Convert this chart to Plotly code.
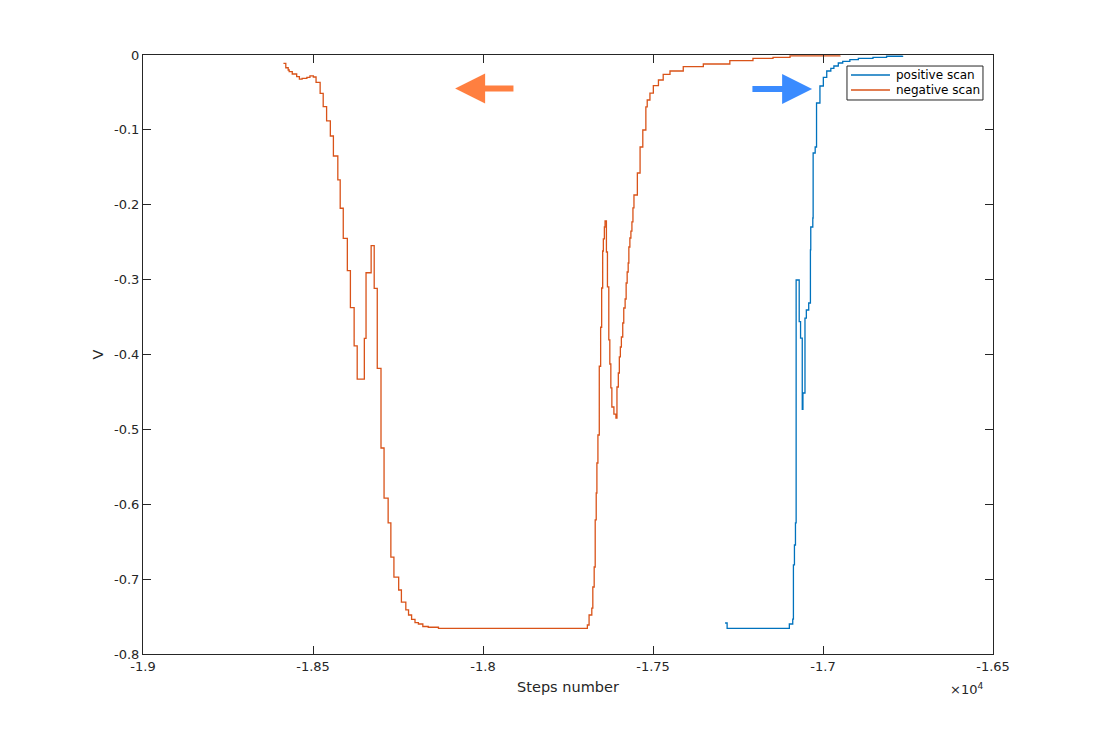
import plotly.graph_objects as go

# ---------------- data ----------------
neg_x = [-18587, -18580, -18573, -18570, -18561, -18548, -18540, -18532, -18518, -18509,
         -18499, -18491, -18479, -18470, -18460, -18449, -18440, -18427, -18420, -18411,
         -18399, -18390, -18379, -18370, -18349, -18344, -18329, -18320, -18311, -18300,
         -18291, -18279, -18271, -18262, -18248, -18240, -18227, -18219, -18210, -18200,
         -18190, -18177, -18161, -18131, -17698, -17693, -17688, -17680, -17677, -17673,
         -17670, -17667, -17665, -17662, -17658, -17654, -17651, -17648, -17646, -17643,
         -17641, -17637, -17634, -17630, -17627, -17624, -17621, -17615, -17609, -17606,
         -17602, -17599, -17596, -17593, -17589, -17586, -17582, -17579, -17576, -17573,
         -17571, -17568, -17565, -17562, -17559, -17556, -17546, -17538, -17530, -17521,
         -17517, -17509, -17499, -17484, -17470, -17450, -17411, -17352, -17274, -17206,
         -17147, -17097, -16950]
neg_v = [-0.0111, -0.0170, -0.0200, -0.0223, -0.0254, -0.0290, -0.0321, -0.0311, -0.0298, -0.0280,
         -0.0294, -0.0365, -0.0512, -0.0690, -0.0881, -0.1082, -0.1349, -0.1669, -0.2047, -0.2448,
         -0.2881, -0.3375, -0.3886, -0.4330, -0.3784, -0.2908, -0.2547, -0.3116, -0.4184, -0.5249,
         -0.5917, -0.6250, -0.6705, -0.6972, -0.7145, -0.7306, -0.7412, -0.7479, -0.7537, -0.7582,
         -0.7599, -0.7633, -0.7643, -0.7657, -0.7657, -0.7613, -0.7479, -0.7386, -0.7105, -0.6838,
         -0.6210, -0.5850, -0.5449, -0.5075, -0.4157, -0.3636, -0.3112, -0.2618, -0.2457, -0.2297,
         -0.2217, -0.2631, -0.3098, -0.3806, -0.4127, -0.4447, -0.4701, -0.4795, -0.4848, -0.4434,
         -0.4247, -0.4033, -0.3900, -0.3766, -0.3579, -0.3379, -0.3259, -0.3045, -0.2898, -0.2778,
         -0.2564, -0.2444, -0.2351, -0.2230, -0.2043, -0.1870, -0.1576, -0.1229, -0.1002, -0.0694,
         -0.0601, -0.0508, -0.0410, -0.0334, -0.0258, -0.0214, -0.0156, -0.0120, -0.0076, -0.0044,
         -0.0031, -0.0013, -0.0007]

pos_x = [-17288, -17282, -17099, -17089, -17087, -17084, -17081, -17079, -17070, -17066,
         -17061, -17059, -17053, -17049, -17042, -17037, -17036, -17030, -17029, -17023,
         -17019, -17009, -16999, -16989, -16977, -16968, -16955, -16942, -16921, -16896,
         -16853, -16813, -16766]
pos_v = [-0.7586, -0.7657, -0.7599, -0.7533, -0.6811, -0.6544, -0.6250, -0.3005, -0.3562, -0.3780,
         -0.4732, -0.4514, -0.3513, -0.3406, -0.3312, -0.2604, -0.2297, -0.2177, -0.1309, -0.1229,
         -0.0641, -0.0414, -0.0298, -0.0214, -0.0178, -0.0147, -0.0107, -0.0084, -0.0063, -0.0044,
         -0.0031, -0.0017, -0.0009]

series_names = ["positive scan", "negative scan"]
x_ticks = [-19000, -18500, -18000, -17500, -17000, -16500]
x_tick_text = ["-1.9", "-1.85", "-1.8", "-1.75", "-1.7", "-1.65"]
y_ticks = [0, -0.1, -0.2, -0.3, -0.4, -0.5, -0.6, -0.7, -0.8]
y_tick_text = ["0", "-0.1", "-0.2", "-0.3", "-0.4", "-0.5", "-0.6", "-0.7", "-0.8"]

# arrows (tail -> tip), in data units
neg_arrow = dict(tail=(-17906, -0.0447), tip=(-18082, -0.0447))
pos_arrow = dict(tail=(-17212, -0.0454), tip=(-17032, -0.0454))

FONT = "DejaVu Sans, Liberation Sans, sans-serif"
AX = "#262626"
BLUE = "#0072BD"
ORANGE = "#D95319"

fig = go.Figure()
fig.add_trace(go.Scatter(x=pos_x, y=pos_v, mode="lines", name=series_names[0],
                         line=dict(color=BLUE, width=1.3, shape="hv"), showlegend=False))
fig.add_trace(go.Scatter(x=neg_x, y=neg_v, mode="lines", name=series_names[1],
                         line=dict(color=ORANGE, width=1.3, shape="hv"), showlegend=False))

for arr, col in [(neg_arrow, "#FF7F40"), (pos_arrow, "#3A8BFF")]:
    fig.add_annotation(x=arr["tip"][0], y=arr["tip"][1], ax=arr["tail"][0], ay=arr["tail"][1],
                       xref="x", yref="y", axref="x", ayref="y", text="", showarrow=True,
                       arrowhead=2, arrowwidth=6, arrowsize=1.0, arrowcolor=col)

# exponent label
fig.add_annotation(x=0.991, y=-0.041, xref="paper", yref="paper", xanchor="right", yanchor="top",
                   text="×10<sup>4</sup>", showarrow=False, font=dict(size=13, color=AX, family=FONT))

# legend box (MATLAB style)
fig.add_shape(type="rect", xref="paper", yref="paper", x0=0.8282, x1=0.9882, y0=0.9249, y1=0.9816,
              line=dict(color=AX, width=1), fillcolor="white", layer="above")
for yy, col, name in [(0.9666, BLUE, series_names[0]), (0.9416, ORANGE, series_names[1])]:
    fig.add_shape(type="line", xref="paper", yref="paper", x0=0.8329, x1=0.8788, y0=yy, y1=yy,
                  line=dict(color=col, width=1.3), layer="above")
    fig.add_annotation(x=0.8835, y=yy, xref="paper", yref="paper", xanchor="left", yanchor="middle",
                       text=name, showarrow=False, font=dict(size=12, color="#000000", family=FONT))

axis_common = dict(showline=True, linecolor=AX, linewidth=1, mirror="ticks", ticks="inside",
                   ticklen=8, tickcolor=AX, showgrid=False, zeroline=False,
                   tickfont=dict(size=13, color=AX, family=FONT))

fig.update_layout(
    width=1090, height=727,
    margin=dict(l=135, r=105, t=47, b=81),
    paper_bgcolor="white", plot_bgcolor="white",
    font=dict(family=FONT, color=AX),
    xaxis=dict(range=[-19000, -16500], tickvals=x_ticks, ticktext=x_tick_text,
               title=dict(text="Steps number", font=dict(size=14.5, color=AX, family=FONT), standoff=9),
               **axis_common),
    yaxis=dict(range=[-0.8, 0], tickvals=y_ticks, ticktext=y_tick_text,
               title=dict(text="V", font=dict(size=14.5, color=AX, family=FONT), standoff=6),
               **axis_common),
    showlegend=False,
)

fig.write_html("out.html")
